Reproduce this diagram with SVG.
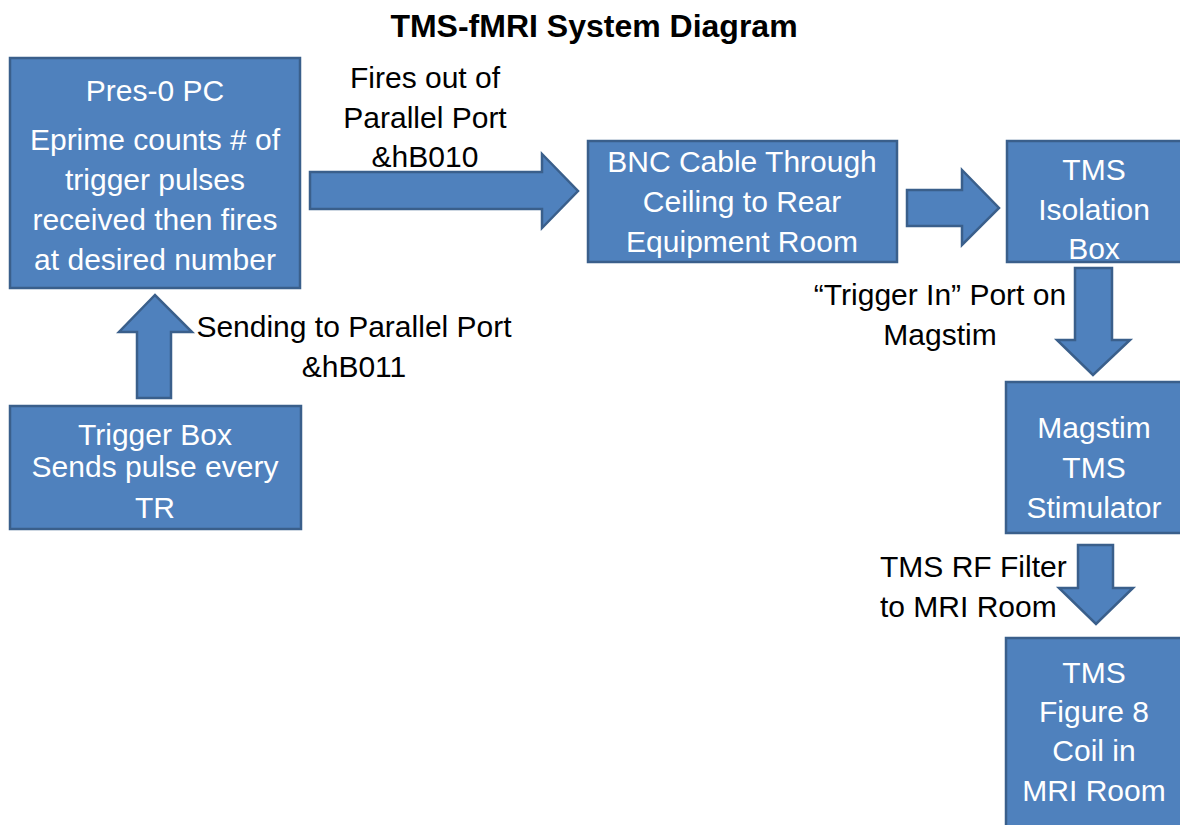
<svg xmlns="http://www.w3.org/2000/svg" width="1180" height="825" viewBox="0 0 1180 825">
<style>
.box{fill:#4F81BD;stroke:#3A5F8B;stroke-width:2.5}
.arrow{fill:#4F81BD;stroke:#3A5F8B;stroke-width:2.5;stroke-linejoin:miter}
.nt{font-family:"Liberation Sans",Arial,sans-serif;font-size:30px;fill:#FFFFFF;text-anchor:middle}
.lb{font-family:"Liberation Sans",Arial,sans-serif;font-size:30px;fill:#000000;text-anchor:middle}
.title{font-family:"Liberation Sans",Arial,sans-serif;font-size:32px;font-weight:bold;fill:#000000;text-anchor:middle}
</style>
<rect width="1180" height="825" fill="#FFFFFF"/>
<text class="title" x="594" y="37">TMS-fMRI System Diagram</text>

<g id="connectors">
  <polygon class="arrow" points="310,172 542,172 542,154 578,191 542,228 542,209 310,209"/>
  <polygon class="arrow" points="907,190 962,190 962,170 999,208 962,245 962,226 907,226"/>
  <polygon class="arrow" points="1075,268 1112,268 1112,340 1130,340 1093,375 1057,340 1075,340"/>
  <polygon class="arrow" points="1078,545 1113,545 1113,588 1133,588 1096,624 1059,588 1078,588"/>
  <polygon class="arrow" points="137,398 171,398 171,332 192,332 155,295 119,332 137,332"/>
  <text class="lb" x="425" y="88">Fires out of</text>
  <text class="lb" x="425" y="128">Parallel Port</text>
  <text class="lb" x="425" y="167">&amp;hB010</text>
  <text class="lb" x="940" y="305">“Trigger In” Port on</text>
  <text class="lb" x="940" y="345">Magstim</text>
  <text class="lb" x="354" y="337">Sending to Parallel Port</text>
  <text class="lb" x="354" y="377">&amp;hB011</text>
  <text class="lb" x="880" y="577" style="text-anchor:start">TMS RF Filter</text>
  <text class="lb" x="880" y="617" style="text-anchor:start">to MRI Room</text>
</g>

<g id="pres-pc">
  <rect class="box" x="10" y="58" width="290" height="230"/>
  <text class="nt" x="155" y="101">Pres-0 PC</text>
  <text class="nt" x="155" y="150">Eprime counts # of</text>
  <text class="nt" x="155" y="190">trigger pulses</text>
  <text class="nt" x="155" y="230">received then fires</text>
  <text class="nt" x="155" y="270">at desired number</text>
</g>

<g id="trigger-box">
  <rect class="box" x="10" y="406" width="291" height="123"/>
  <text class="nt" x="155" y="445">Trigger Box</text>
  <text class="nt" x="155" y="477">Sends pulse every</text>
  <text class="nt" x="155" y="518">TR</text>
</g>

<g id="bnc-cable">
  <rect class="box" x="588" y="141" width="309" height="121"/>
  <text class="nt" x="742" y="172">BNC Cable Through</text>
  <text class="nt" x="742" y="212">Ceiling to Rear</text>
  <text class="nt" x="742" y="252">Equipment Room</text>
</g>

<g id="isolation-box">
  <rect class="box" x="1007" y="141" width="176" height="121"/>
  <text class="nt" x="1094" y="180">TMS</text>
  <text class="nt" x="1094" y="220">Isolation</text>
  <text class="nt" x="1094" y="259">Box</text>
</g>

<g id="magstim">
  <rect class="box" x="1006" y="382" width="177" height="151"/>
  <text class="nt" x="1094" y="438">Magstim</text>
  <text class="nt" x="1094" y="478">TMS</text>
  <text class="nt" x="1094" y="518">Stimulator</text>
</g>

<g id="figure8-coil">
  <rect class="box" x="1006" y="638" width="177" height="192"/>
  <text class="nt" x="1094" y="683">TMS</text>
  <text class="nt" x="1094" y="722">Figure 8</text>
  <text class="nt" x="1094" y="761">Coil in</text>
  <text class="nt" x="1094" y="801">MRI Room</text>
</g>
</svg>
